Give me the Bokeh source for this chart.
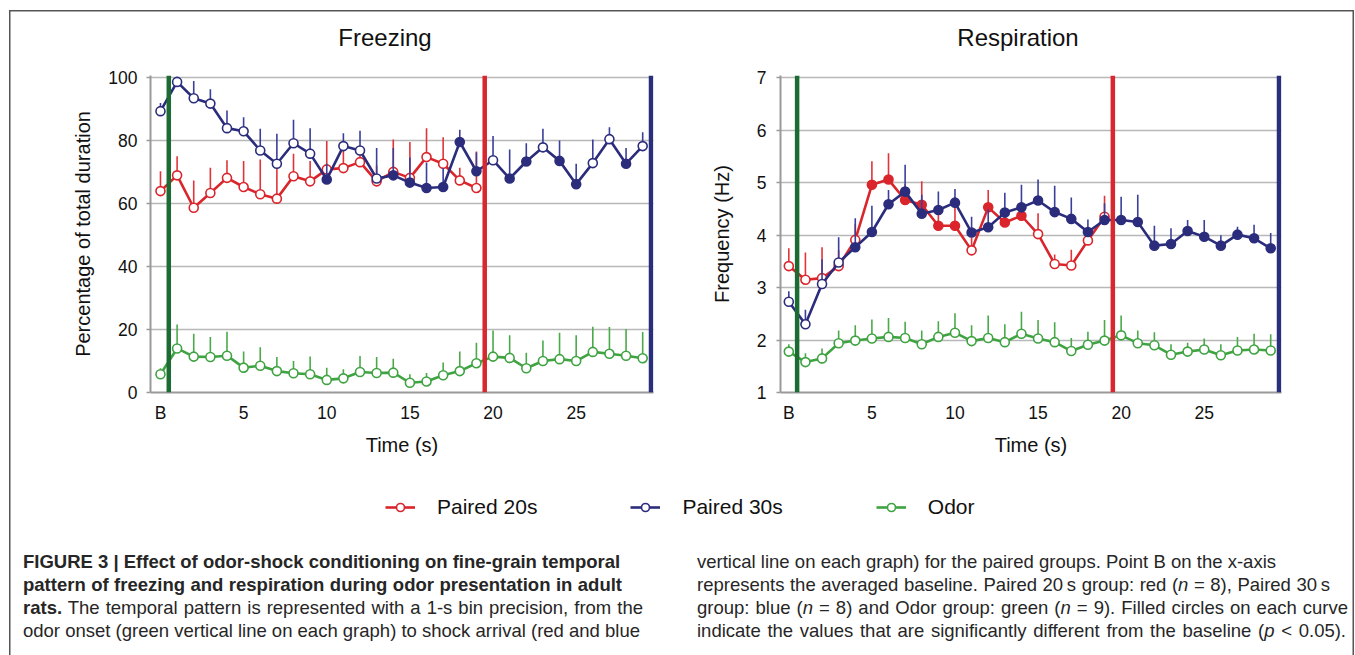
from bokeh.plotting import figure
from bokeh.models import Range1d, FixedTicker, Span, Legend, LegendItem, Div, ColumnDataSource
from bokeh.layouts import column, row
from bokeh.embed import file_html
from bokeh.resources import INLINE

FONT = "Liberation Sans"

# ---------------- data ----------------
time_bins = list(range(30))            # 0 = B (baseline), 1..29 seconds
time_bins_20 = list(range(20))
x_ticks = [0, 5, 10, 15, 20, 25]
x_tick_labels = {0: "B", 5: "5", 10: "10", 15: "15", 20: "20", 25: "25"}
odor_onset = 0.5
shock_20 = 19.5
shock_30 = 29.5
panel_titles = ["Freezing", "Respiration"]

# Freezing (% of total duration)
frz_p20 = [64.0, 69.0, 58.7, 63.4, 68.2, 65.3, 63.0, 61.6, 68.7, 67.1, 70.9, 71.3, 73.2, 67.1, 70.1, 68.2, 74.8, 72.7, 67.4, 65.0]
frz_p20_err = [6.3, 6.1, 8.7, 8.0, 5.6, 8.3, 11.0, 12.0, 7.2, 6.5, 9.0, 5.6, 4.0, 5.0, 10.3, 11.4, 9.2, 8.4, 4.0, 11.6]
frz_p20_sig = [0] * 20

frz_p30 = [89.4, 98.7, 93.5, 91.8, 84.0, 83.0, 76.9, 72.7, 79.2, 75.9, 67.7, 78.3, 76.9, 68.0, 69.0, 66.7, 65.0, 65.3, 79.6, 70.3,
           73.8, 68.0, 73.4, 77.9, 73.6, 66.2, 72.9, 80.5, 72.7, 78.3]
frz_p30_err = [2.6, 1.5, 5.5, 4.6, 5.6, 4.5, 6.9, 9.5, 7.5, 8.1, 5.0, 4.1, 6.3, 9.7, 8.7, 8.0, 8.0, 6.0, 3.9, 6.0,
               7.7, 9.2, 5.8, 5.9, 6.5, 6.5, 7.5, 3.8, 5.0, 4.4]
frz_p30_sig = [0, 0, 0, 0, 0, 0, 0, 0, 0, 0, 1, 0, 0, 0, 1, 1, 1, 1, 1, 1,
               0, 1, 1, 0, 1, 1, 0, 0, 1, 0]

frz_odor = [5.8, 14.0, 11.4, 11.3, 11.7, 7.9, 8.5, 6.8, 6.1, 5.8, 4.0, 4.5, 6.5, 6.2, 6.3, 3.1, 3.5, 5.5, 6.8, 9.3,
            11.4, 11.0, 7.7, 10.0, 10.6, 10.0, 12.9, 12.3, 11.7, 10.9]
frz_odor_err = [1.9, 7.6, 7.3, 6.3, 7.6, 5.1, 5.9, 4.5, 3.9, 5.6, 3.9, 2.9, 5.1, 5.1, 4.4, 2.7, 2.7, 4.0, 6.2, 6.5,
                8.3, 7.2, 4.9, 6.5, 8.4, 8.2, 8.0, 8.5, 8.5, 8.3]
frz_odor_sig = [0] * 30

# Respiration (Hz)
resp_p20 = [3.41, 3.15, 3.18, 3.41, 3.91, 4.96, 5.06, 4.67, 4.58, 4.18, 4.18, 3.71, 4.53, 4.24, 4.37, 4.02, 3.45, 3.42, 3.90, 4.35]
resp_p20_err = [0.34, 0.52, 0.59, 0.30, 0.30, 0.45, 0.50, 0.30, 0.45, 0.30, 0.36, 0.25, 0.33, 0.25, 0.20, 0.40, 0.18, 0.30, 0.20, 0.40]
resp_p20_sig = [0, 0, 0, 0, 0, 1, 1, 1, 1, 1, 1, 0, 1, 1, 1, 0, 0, 0, 0, 0]

resp_p30 = [2.73, 2.30, 3.07, 3.48, 3.77, 4.06, 4.59, 4.83, 4.41, 4.48, 4.62, 4.05, 4.15, 4.43, 4.53, 4.66, 4.44, 4.31, 4.06, 4.29,
            4.29, 4.25, 3.80, 3.83, 4.08, 3.97, 3.80, 4.01, 3.94, 3.75]
resp_p30_err = [0.20, 0.28, 0.47, 0.48, 0.55, 0.50, 0.27, 0.51, 0.36, 0.35, 0.26, 0.30, 0.34, 0.38, 0.43, 0.40, 0.50, 0.41, 0.24, 0.32,
                0.44, 0.52, 0.38, 0.30, 0.21, 0.32, 0.20, 0.15, 0.26, 0.29]
resp_p30_sig = [0, 0, 0, 0] + [1] * 26

resp_odor = [1.78, 1.58, 1.65, 1.94, 1.99, 2.03, 2.06, 2.04, 1.92, 2.06, 2.14, 1.98, 2.04, 1.96, 2.12, 2.03, 1.96, 1.79, 1.91, 1.99,
             2.09, 1.94, 1.90, 1.72, 1.78, 1.82, 1.71, 1.80, 1.82, 1.80]
resp_odor_err = [0.14, 0.17, 0.19, 0.24, 0.29, 0.36, 0.36, 0.31, 0.26, 0.30, 0.37, 0.30, 0.43, 0.34, 0.42, 0.35, 0.38, 0.25, 0.25, 0.39,
                 0.38, 0.24, 0.25, 0.20, 0.17, 0.21, 0.21, 0.26, 0.30, 0.31]
resp_odor_sig = [0] * 30

series_names = ["Paired 20s", "Paired 30s", "Odor"]

# ---------------- styles ----------------
RED, RED_ERR = "#d9252b", "#e0343a"
BLUE, BLUE_ERR = "#2b2d7c", "#3a3f9a"
GREEN, GREEN_ERR = "#3fa342", "#4aaa4a"
VGREEN, VRED, VBLUE = "#1c6b32", "#d7272f", "#2a2f7d"
GRID = "#b8b8b8"
AXIS = "#9a9a9a"


def draw_series(p, xs, ys, errs, sig, color, ecolor):
    src = ColumnDataSource(dict(
        x=xs, y=ys, top=[a + b for a, b in zip(ys, errs)],
        fill=[color if s else "white" for s in sig]))
    p.segment(x0="x", y0="y", x1="x", y1="top", source=src, line_color=ecolor, line_width=1.6)
    p.line("x", "y", source=src, line_color=color, line_width=2.6)
    p.scatter("x", "y", source=src, size=9, line_color=color, fill_color="fill", line_width=1.6)


def make_chart(ylabel, yr, yticks, xr, width, height, bl, br, bt, bb, ylab_standoff, tick_standoff):
    p = figure(width=width, height=height, x_range=Range1d(*xr), y_range=Range1d(*yr),
               output_backend="svg", toolbar_location=None, title=None,
               min_border_left=bl, min_border_right=br, min_border_top=bt, min_border_bottom=bb,
               border_fill_color=None, outline_line_color=None, background_fill_color="white")

    p.xgrid.visible = False
    p.ygrid.grid_line_color = GRID
    p.ygrid.grid_line_width = 1.3
    p.ygrid.ticker = FixedTicker(ticks=yticks)

    xa = p.xaxis[0]
    xa.ticker = FixedTicker(ticks=x_ticks)
    xa.major_label_overrides = x_tick_labels
    xa.major_tick_out = 0
    xa.major_tick_in = 0
    xa.minor_tick_out = 0
    xa.minor_tick_in = 0
    xa.axis_line_color = AXIS
    xa.axis_line_width = 2
    xa.major_label_text_font = FONT
    xa.major_label_text_font_size = "17.5px"
    xa.major_label_text_color = "#111111"
    xa.major_label_standoff = 10
    xa.axis_label = "Time (s)"
    xa.axis_label_text_font = FONT
    xa.axis_label_text_font_size = "20px"
    xa.axis_label_text_font_style = "normal"
    xa.axis_label_text_color = "#111111"
    xa.axis_label_standoff = 8

    ya = p.yaxis[0]
    ya.ticker = FixedTicker(ticks=yticks)
    ya.major_tick_out = 4
    ya.major_tick_in = 0
    ya.major_tick_line_color = AXIS
    ya.major_tick_line_width = 1.3
    ya.minor_tick_out = 0
    ya.minor_tick_in = 0
    ya.axis_line_color = AXIS
    ya.axis_line_width = 2
    ya.major_label_text_font = FONT
    ya.major_label_text_font_size = "17.5px"
    ya.major_label_text_color = "#111111"
    ya.major_label_standoff = tick_standoff
    ya.axis_label = ylabel
    ya.axis_label_text_font = FONT
    ya.axis_label_text_font_size = "20px"
    ya.axis_label_text_font_style = "normal"
    ya.axis_label_text_color = "#111111"
    ya.axis_label_standoff = ylab_standoff
    return p


def add_markers(p):
    for loc, col in [(odor_onset, VGREEN), (shock_20, VRED), (shock_30, VBLUE)]:
        p.add_layout(Span(location=loc, dimension="height", line_color=col, line_width=4.5))


# Left chart: Freezing
pf = make_chart("Percentage of total duration", (0, 100.73), [0, 20, 40, 60, 80, 100],
                (-0.6, 29.65), 680, 415, 150, 27, 18, 78, 11, 9)
draw_series(pf, time_bins, frz_odor, frz_odor_err, frz_odor_sig, GREEN, GREEN_ERR)
draw_series(pf, time_bins_20, frz_p20, frz_p20_err, frz_p20_sig, RED, RED_ERR)
draw_series(pf, time_bins, frz_p30, frz_p30_err, frz_p30_sig, BLUE, BLUE_ERR)
add_markers(pf)

# Right chart: Respiration
pr = make_chart("Frequency (Hz)", (1, 7.044), [1, 2, 3, 4, 5, 6, 7],
                (-0.5, 29.65), 674, 415, 100, 73, 20, 76, 21, 10)
draw_series(pr, time_bins, resp_odor, resp_odor_err, resp_odor_sig, GREEN, GREEN_ERR)
draw_series(pr, time_bins_20, resp_p20, resp_p20_err, resp_p20_sig, RED, RED_ERR)
draw_series(pr, time_bins, resp_p30, resp_p30_err, resp_p30_sig, BLUE, BLUE_ERR)
add_markers(pr)

# Panel titles strip
title_html = ('<div style="position:relative;width:1354px;height:55px;font-family:\'Liberation Sans\';'
              'font-size:24px;line-height:28px;color:#111111;">'
              f'<div style="position:absolute;left:285px;top:24px;width:200px;text-align:center;">{panel_titles[0]}</div>'
              f'<div style="position:absolute;left:918px;top:24px;width:200px;text-align:center;">{panel_titles[1]}</div>'
              '</div>')
d_titles = Div(text=title_html, width=1354, height=55, margin=0)

# Legend strip (renderers reuse the series data; the strip's ranges keep them off-screen)
pl = figure(width=1354, height=60, x_range=Range1d(-200, -100), y_range=Range1d(-200, -100),
            output_backend="svg", toolbar_location=None, min_border=0, title=None,
            border_fill_color=None, outline_line_color=None, background_fill_color=None)
pl.axis.visible = False
pl.grid.visible = False
items = []
for name, col, xs, ys in zip(series_names, [RED, BLUE, GREEN],
                             [time_bins_20, time_bins, time_bins], [frz_p20, frz_p30, frz_odor]):
    lr = pl.line(x=xs, y=ys, line_color=col, line_width=2.6)
    sr = pl.scatter(x=xs, y=ys, size=9, line_color=col, fill_color="white", line_width=1.6)
    items.append(LegendItem(label=name, renderers=[lr, sr]))
leg = Legend(items=items, orientation="horizontal", location=(385, 11),
             glyph_width=30, glyph_height=20, label_standoff=22, spacing=93,
             padding=0, margin=0, border_line_color=None, background_fill_color=None,
             label_text_font=FONT, label_text_font_size="21px", label_text_color="#111111")
pl.add_layout(leg)

# Caption
def cap_line(left, top, width, html):
    return (f'<div style="position:absolute;left:{left}px;top:{top}px;width:{width}px;white-space:nowrap;'
            f'text-align:justify;text-align-last:justify;">{html}</div>')

cap_left_lines = [
    "<b>FIGURE 3 | Effect of odor-shock conditioning on fine-grain temporal</b>",
    "<b>pattern of freezing and respiration during odor presentation in adult</b>",
    "<b>rats.</b> The temporal pattern is represented with a 1-s bin precision, from the",
    "odor onset (green vertical line on each graph) to shock arrival (red and blue",
]
cap_left_widths = [597, 599, 620, 611]
cap_right_lines = [
    "vertical line on each graph) for the paired groups. Point B on the x-axis",
    "represents the averaged baseline. Paired 20\u2009s group: red (<i>n</i> = 8), Paired 30\u2009s",
    "group: blue (<i>n</i> = 8) and Odor group: green (<i>n</i> = 9). Filled circles on each curve",
    "indicate the values that are significantly different from the baseline (<i>p</i> &lt; 0.05).",
]
cap_right_widths = [579, 633, 651, 649]
line_tops = [21, 44, 67, 90]

cap_html = ('<div style="position:relative;width:1354px;height:125px;font-family:\'Liberation Sans\';'
            'font-size:18.5px;line-height:22px;color:#262626;">'
            + "".join(cap_line(23, t, w, s) for t, w, s in zip(line_tops, cap_left_widths, cap_left_lines))
            + "".join(cap_line(697, t, w, s) for t, w, s in zip(line_tops, cap_right_widths, cap_right_lines))
            + '</div>')
d_cap = Div(text=cap_html, width=1354, height=125, margin=0)

frame_style = {"box-shadow": "inset 9px 10px 0 0 #ffffff, inset 10.5px 11.5px 0 0 #555555, inset -1.5px 0 0 0 #555555"}
layout = column(d_titles, row(pf, pr), pl, d_cap, styles=frame_style)

open("out.html", "w").write(file_html(layout, INLINE))
